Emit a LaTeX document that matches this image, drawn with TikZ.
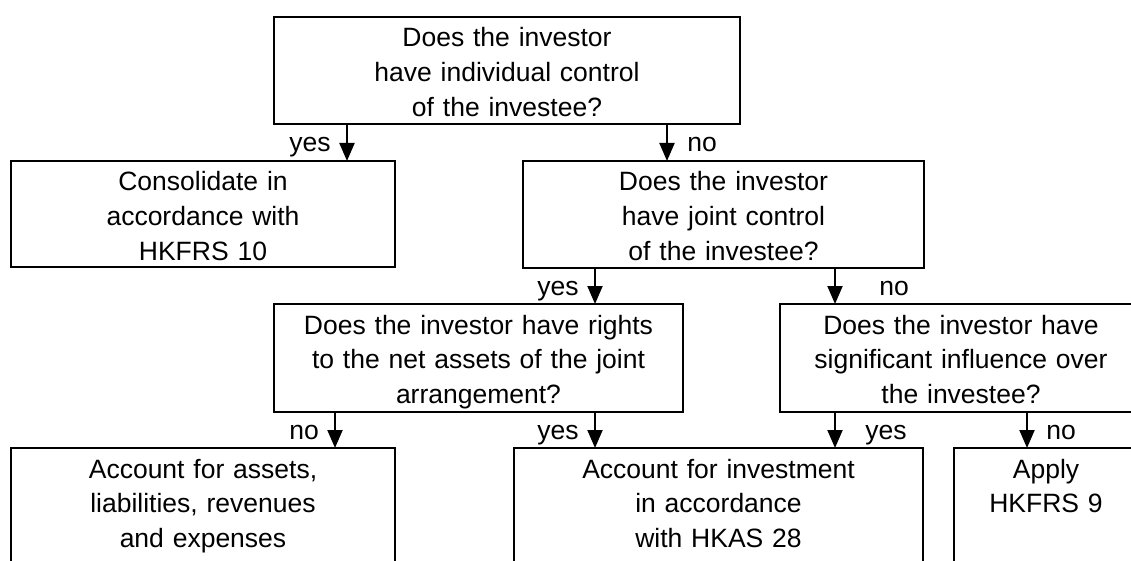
\documentclass[tikz,border=0pt]{standalone}
\usepackage{fontspec}
\setmainfont{Liberation Sans}
\usetikzlibrary{arrows.meta}
\begin{document}
\begin{tikzpicture}[x=1pt,y=-1pt,
  box/.style={draw, line width=2.2pt, inner sep=0pt, outer sep=0pt, anchor=north west,
    align=center, font=\fontsize{26.5pt}{34.8pt}\selectfont, text height=30pt},
  lbl/.style={anchor=base, inner sep=0pt, font=\fontsize{26.5pt}{34.8pt}\selectfont},
  arr/.style={line width=2pt, -{Triangle[width=15pt,length=18pt]}}]
\useasboundingbox (0,0) rectangle (1131,561);
\clip (0,0) rectangle (1131,561);

\node[box, text width=466pt, text depth=77pt] (q1) at (274,17)
  {Does the investor\\have individual control\\of the investee?};
\node[box, text width=384pt, text depth=76pt] (cons) at (11,161)
  {Consolidate in\\accordance with\\HKFRS 10};
\node[box, text width=401pt, text depth=77pt] (q2) at (523,161)
  {Does the investor\\have joint control\\of the investee?};
\node[box, text width=409pt, text depth=78pt] (q3) at (274,304)
  {Does the investor have rights\\to the net assets of the joint\\arrangement?};
\node[box, text width=362pt, text depth=78pt] (q4) at (780,304)
  {Does the investor have\\significant influence over\\the investee?};
\node[box, text width=384pt, text depth=120pt] (r1) at (11,448)
  {Account for assets,\\liabilities, revenues\\and expenses};
\node[box, text width=409pt, text depth=120pt] (r2) at (514,448)
  {Account for investment\\in accordance\\with HKAS 28};
\node[box, text width=184pt, text depth=120pt] (r3) at (954,448)
  {Apply\\HKFRS 9};

\coordinate (xa) at (347,0);
\coordinate (xb) at (667,0);
\coordinate (xc) at (595,0);
\coordinate (xd) at (835,0);
\coordinate (xe) at (335,0);
\coordinate (xf) at (1027,0);

\draw[arr] (q1.south -| xa) -- (cons.north -| xa);
\draw[arr] (q1.south -| xb) -- (q2.north -| xb);
\draw[arr] (q2.south -| xc) -- (q3.north -| xc);
\draw[arr] (q2.south -| xd) -- (q4.north -| xd);
\draw[arr] (q3.south -| xe) -- (r1.north -| xe);
\draw[arr] (q3.south -| xc) -- (r2.north -| xc);
\draw[arr] (q4.south -| xd) -- (r2.north -| xd);
\draw[arr] (q4.south -| xf) -- (r3.north -| xf);

\node[lbl] (l1) at (310,152) {yes};
\node[lbl] (l2) at (702,152) {no};
\node[lbl] (l3) at (558,295) {yes};
\node[lbl] (l4) at (894,295) {no};
\node[lbl] (l5) at (304,439) {no};
\node[lbl] (l6) at (558,439) {yes};
\node[lbl] (l7) at (886,439) {yes};
\node[lbl] (l8) at (1061,439) {no};
\end{tikzpicture}
\end{document}
